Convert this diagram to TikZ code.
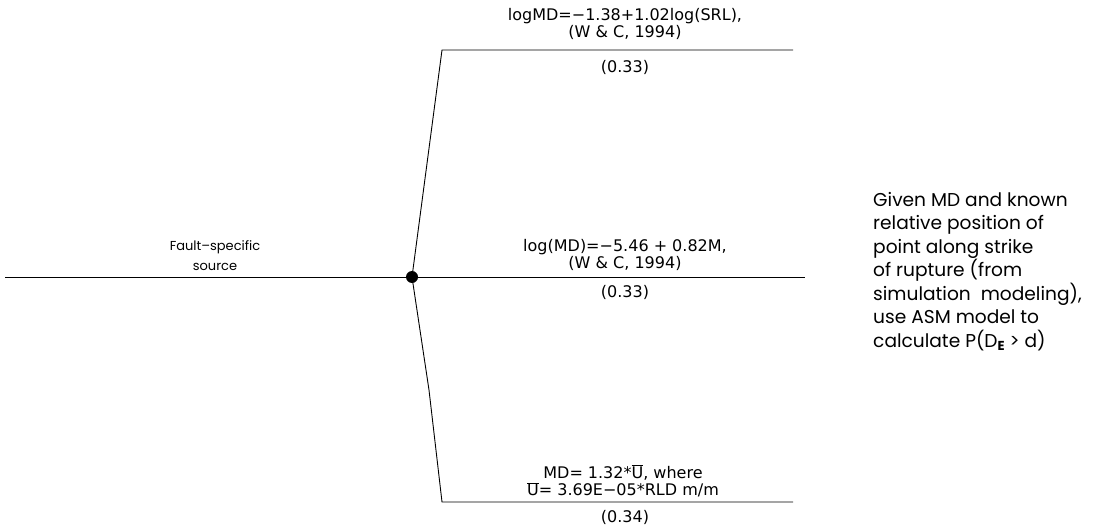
\documentclass[tikz,border=0pt]{standalone}
\usepackage{fontspec}
\setmainfont{DejaVu Sans}
\newfontfamily\rfont{Poppins}
\tikzset{
  branch/.style={line width=0.9pt, black},
  lbl/.style={inner sep=0pt, align=center, font=\fontsize{16}{17.5}\selectfont},
  srclbl/.style={inner sep=0pt, align=center, font=\rfont\fontsize{13}{20}\selectfont},
  note/.style={inner sep=0pt, align=left, anchor=north west, font=\rfont\fontsize{18.6}{23.5}\selectfont},
  junction/.style={circle, fill=black, minimum size=12pt, inner sep=0pt}
}
\begin{document}
\begin{tikzpicture}[x=1pt,y=-1pt]
\useasboundingbox (0,0) rectangle (1116,529);
\node[junction] (c) at (412,277) {};
\coordinate (s) at (5,277);
\coordinate (t1) at (442,50);
\coordinate (t2) at (793,50);
\coordinate (m2) at (805,277);
\coordinate (b1) at (442,502);
\coordinate (b2) at (793,502);
\draw[branch] (s) -- (c.center);
\draw[branch] (c.center) -- (t1) -- (t2);
\draw[branch] (c.center) -- (m2);
\draw[branch] (c.center) -- (429,390) -- (b1) -- (b2);
% labels
\node[lbl] (l1) at (625,24) {logMD=−1.38+1.02log(SRL),\\(W \& C, 1994)};
\node[lbl] (p1) at (625,67) {(0.33)};
\node[srclbl] (src) at (215,256) {Fault–specific\\source};
\node[lbl] (l2) at (625,255) {log(MD)=−5.46 + 0.82M,\\(W \& C, 1994)};
\node[lbl] (p2) at (625,292) {(0.33)};
\node[lbl] (l3) at (623,481) {MD= 1.32*$\overline{\hbox{U}}$, where\\$\overline{\hbox{U}}$= 3.69E−05*RLD m/m};
\node[lbl] (p3) at (625,517) {(0.34)};
\node[note] (n) at (873,192) {Given MD and known\\relative position of\\point along strike\\of rupture (from\\simulation\ \ modeling),\\use ASM model to\\calculate P(D\raisebox{-0.35ex}{\fontsize{13}{13}\selectfont\bfseries E} > d)};
\end{tikzpicture}
\end{document}
